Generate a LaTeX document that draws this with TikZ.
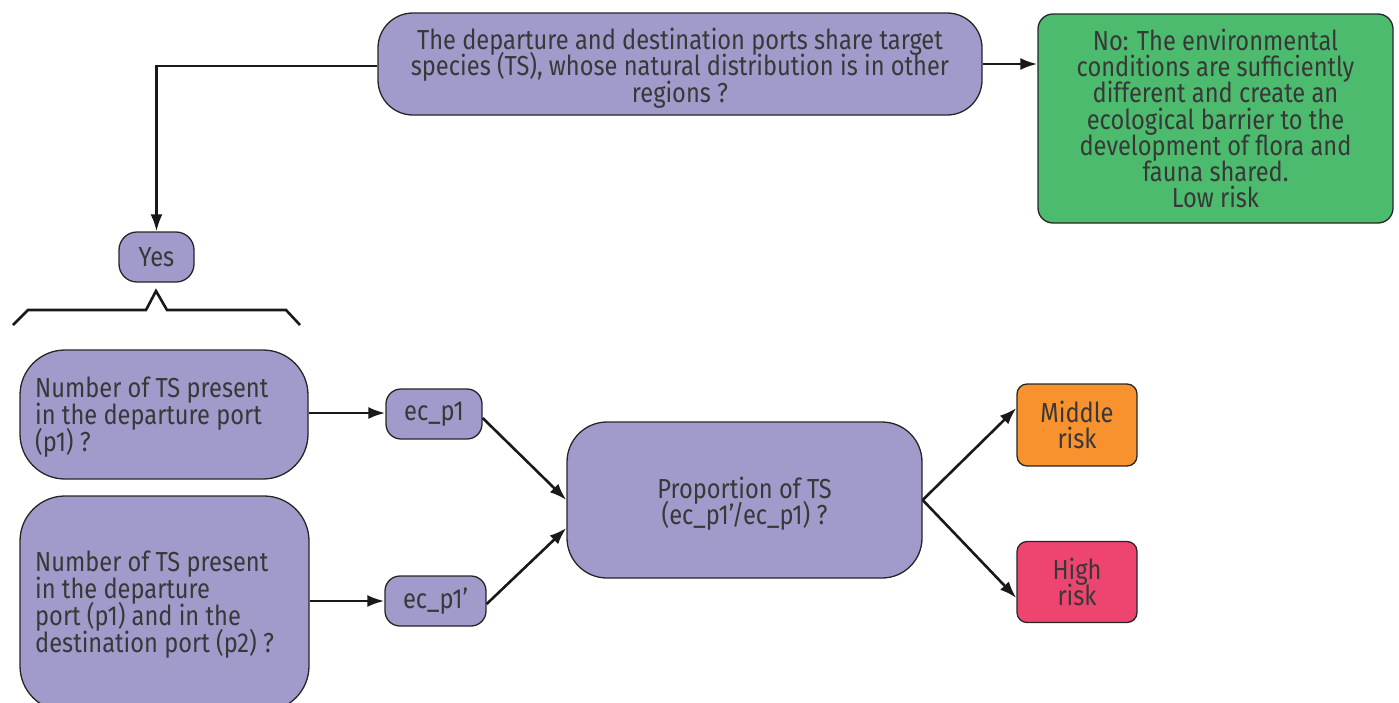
\documentclass[tikz,border=0pt]{standalone}
\usepackage{fontspec}
\setmainfont{Fira Sans}[FakeStretch=0.86]
\usetikzlibrary{arrows.meta}
\definecolor{pur}{HTML}{A09BCA}
\definecolor{grn}{HTML}{4CBB6E}
\definecolor{org}{HTML}{F7922E}
\definecolor{pnk}{HTML}{EE4570}
\definecolor{txt}{HTML}{383838}
\newcommand{\tightfont}[1]{\fontsize{27.5}{#1}\selectfont\lineskiplimit=-30pt\lineskip=0pt}
\begin{document}
\begin{tikzpicture}[x=1pt,y=-1pt,
  box/.style={draw=black!85,line width=1.3pt,fill=pur,text=txt,font=\tightfont{26.3},inner sep=0pt},
  lbl/.style={text=txt,font=\tightfont{26.8},align=left,anchor=west,inner sep=0pt},
  clbl/.style={text=txt,font=\tightfont{26.3},align=center,inner sep=0pt},
  arr/.style={-{Latex[length=17pt,width=12pt]},line width=2.6pt,black!90},
  ln/.style={line width=2.6pt,black!90}]
\useasboundingbox (0,0) rectangle (1399,702);
\node[box,rounded corners=35pt,minimum width=604pt,minimum height=102pt] (top) at (680,64) {};
\node[clbl] (topt) at (680,68)
  {The departure and destination ports share target\\species (TS), whose natural distribution is in other\\regions ?};
\node[box,fill=grn,rounded corners=15pt,minimum width=355pt,minimum height=209pt,align=center] (no) at (1215.5,118.5)
  {No: The environmental\\conditions are sufficiently\\different and create an\\ecological barrier to the\\development of flora and\\fauna shared.\\Low risk};
\node[box,rounded corners=18pt,minimum width=75pt,minimum height=50pt] (yes) at (156.5,257) {Yes};
\draw[ln] (13,325) -- (28,310) -- (146,310) -- (156,291) coordinate (bt) -- (167,310) -- (286,310) -- (300,325);
\node[box,rounded corners=45pt,minimum width=288pt,minimum height=129pt] (b1) at (164,414.5) {};
\node[lbl] (b1t) at (35,417) {Number of TS present\\in the departure port\\(p1) ?};
\node[box,rounded corners=45pt,minimum width=289pt,minimum height=215pt] (b2) at (164.5,603.5) {};
\node[lbl] (b2t) at (35,604.5) {Number of TS present\\in the departure\\port (p1) and in the\\destination port (p2) ?};
\node[box,rounded corners=15pt,minimum width=96pt,minimum height=50pt] (e1) at (434,414) {ec\_p1};
\node[box,rounded corners=15pt,minimum width=101pt,minimum height=50pt] (e2) at (435.5,601) {ec\_p1’};
\node[box,rounded corners=40pt,minimum width=355pt,minimum height=156pt] (prop) at (744.5,500) {};
\node[clbl] (propt) at (744.5,503.5) {Proportion of TS\\(ec\_p1’/ec\_p1) ?};
\node[box,fill=org,rounded corners=10pt,minimum width=120pt,minimum height=82pt,align=center] (mid) at (1077,425) {Middle\\risk};
\node[box,fill=pnk,rounded corners=10pt,minimum width=120pt,minimum height=81pt,align=center] (high) at (1077,582) {High\\risk};
\draw[arr] (top.west |- 0,66) -| (yes.north);
\draw[arr] (top.east |- 0,64) -- (no.west |- 0,64);
\draw[arr] (b1.east |- 0,413) -- (e1.west |- 0,413);
\draw[arr] (b2.east |- 0,601) -- (e2.west |- 0,601);
\draw[arr] (e1.east |- 0,418) -- (prop.west |- 0,500);
\draw[arr] (e2.east |- 0,604) -- (prop.west |- 0,528);
\coordinate (pe) at (prop.east);
\draw[arr] (pe) -- (mid.west |- 0,408);
\draw[arr] (pe) -- (high.west |- 0,598);
\end{tikzpicture}
\end{document}
